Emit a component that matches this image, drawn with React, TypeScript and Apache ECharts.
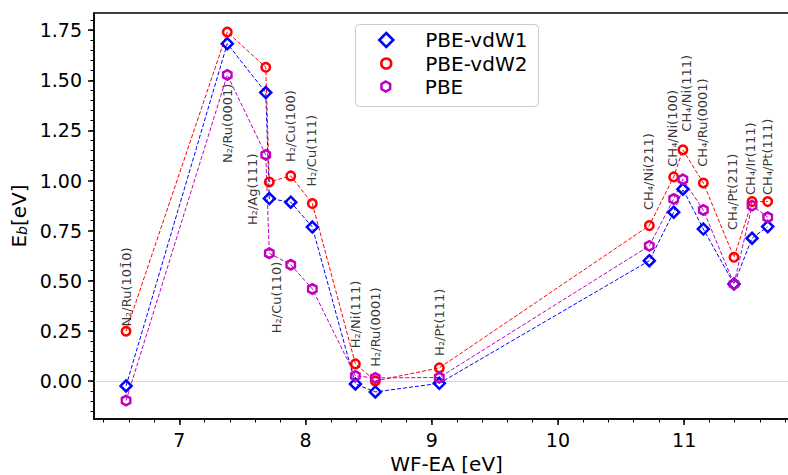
import React, { useEffect, useRef } from "react";
import * as echarts from "echarts";

// Systems (annotation texts), in order of WF-EA
const systems = [
  "N\u2082/Ru(101\u03040)",
  "N\u2082/Ru(0001)",
  "H\u2082/Ag(111)",
  "H\u2082/Cu(110)",
  "H\u2082/Cu(100)",
  "H\u2082/Cu(111)",
  "H\u2082/Ni(111)",
  "H\u2082/Ru(0001)",
  "H\u2082/Pt(111)",
  "CH\u2084/Ni(211)",
  "CH\u2084/Ni(100)",
  "CH\u2084/Ni(111)",
  "CH\u2084/Ru(0001)",
  "CH\u2084/Pt(211)",
  "CH\u2084/Ir(111)",
  "CH\u2084/Pt(111)",
];
const wfEa = [6.578, 7.38, 7.685, 7.713, 7.883, 8.054, 8.395, 8.553, 9.06, 10.724, 10.917, 10.99, 11.152, 11.395, 11.538, 11.662];
const ebVdW1 = [-0.025, 1.683, 1.439, 0.91, 0.892, 0.768, -0.015, -0.055, -0.012, 0.6, 0.842, 0.957, 0.758, 0.484, 0.712, 0.77];
const ebVdW2 = [0.248, 1.741, 1.565, 0.993, 1.023, 0.885, 0.085, 0.0, 0.065, 0.775, 1.018, 1.153, 0.988, 0.617, 0.895, 0.895];
const ebPBE = [-0.098, 1.527, 1.128, 0.637, 0.58, 0.459, 0.025, 0.015, 0.017, 0.674, 0.908, 1.006, 0.853, 0.484, 0.875, 0.817];
// Annotation anchor (start of the rotated text) in data coordinates
const labelX = [6.583, 7.384, 7.58, 7.772, 7.883, 8.049, 8.395, 8.553, 9.06, 10.716, 10.91, 11.015, 11.144, 11.385, 11.528, 11.659];
const labelY = [0.271, 1.088, 0.778, 0.238, 1.093, 0.97, 0.163, 0.071, 0.125, 0.853, 1.069, 1.244, 1.069, 0.753, 0.928, 0.928];

const xMajorTicks = [7, 8, 9, 10, 11];
const yMajorTicks = [0, 0.25, 0.5, 0.75, 1.0, 1.25, 1.5, 1.75];
const seriesNames = ["PBE-vdW1", "PBE-vdW2", "PBE"];

const X_MIN = 6.324;
const X_MAX = 11.91;
const Y_MIN = -0.19;
const Y_MAX = 1.836;

const xMinorTicks: number[] = [];
for (let i = 32; i <= 59; i++) xMinorTicks.push(Math.round(i * 0.2 * 100) / 100);
const yMinorTicks: number[] = [];
for (let i = -3; i <= 36; i++) yMinorTicks.push(Math.round(i * 0.05 * 1000) / 1000);

const FONT = "DejaVu Sans";
const BLUE = "#0000ff";
const RED = "#ff0000";
const MAGENTA = "#bf00bf";
const HEX = "path://M0,-10L8.66,-5L8.66,5L0,10L-8.66,5L-8.66,-5Z";

export default function App() {
  const ref = useRef<HTMLDivElement>(null);
  useEffect(() => {
    document.body.style.margin = "0";
    if (!ref.current) return;
    const chart = echarts.init(ref.current, null, { renderer: "svg" });
    const pts = (ys: number[]) => wfEa.map((x, i) => [x, ys[i]]);
    const lineSeries = (name: string, ys: number[], color: string, symbol: string, size: any) => ({
      name,
      type: "line",
      data: pts(ys),
      symbol,
      symbolSize: size,
      showAllSymbol: true,
      lineStyle: { color, width: 1, type: [4, 2] },
      itemStyle: { color: "rgba(0,0,0,0)", borderColor: color, borderWidth: 2.5 },
      emphasis: { disabled: true },
      z: 3,
    });
    const legendBase = (name: string, icon: string, color: string, w: number, h: number, left: number, top: number, padLeft: number) => ({
      data: [{ name, icon }],
      orient: "vertical",
      left,
      top,
      padding: 0,
      itemWidth: w,
      itemHeight: h,
      selectedMode: false,
      itemStyle: { color: "rgba(0,0,0,0)", borderColor: color, borderWidth: 2.5 },
      textStyle: { fontFamily: FONT, fontSize: 20, color: "#000", lineHeight: 22, padding: [0, 0, 0, padLeft] },
      z: 6,
    });
    const option: any = {
      animation: false,
      grid: {
        left: 94,
        top: 13,
        right: -11,
        bottom: 56,
        show: true,
        borderColor: "#000",
        borderWidth: 1.5,
        backgroundColor: "transparent",
        outerBoundsMode: "none",
      },
      xAxis: [
        {
          type: "value",
          min: X_MIN,
          max: X_MAX,
          position: "bottom",
          name: "WF-EA [eV]",
          nameLocation: "middle",
          nameGap: 30,
          nameTextStyle: { fontFamily: FONT, fontSize: 20, color: "#000" },
          axisLine: { show: true, onZero: false, lineStyle: { color: "#000", width: 1.5 } },
          axisTick: { show: true, length: 6, customValues: xMajorTicks, lineStyle: { color: "#000", width: 1.5 } },
          axisLabel: { customValues: xMajorTicks, fontFamily: FONT, fontSize: 19, color: "#000", margin: 11 },
          splitLine: { show: false },
        },
        {
          type: "value",
          min: X_MIN,
          max: X_MAX,
          position: "bottom",
          axisLine: { show: false, onZero: false },
          axisTick: { show: true, length: 3.5, customValues: xMinorTicks, lineStyle: { color: "#000", width: 1 } },
          axisLabel: { show: false },
          splitLine: { show: false },
        },
      ],
      yAxis: [
        {
          type: "value",
          min: Y_MIN,
          max: Y_MAX,
          position: "left",
          name: "E{s|b}[eV]",
          nameLocation: "middle",
          nameGap: 62,
          nameTextStyle: {
            fontFamily: FONT,
            fontSize: 20,
            color: "#000",
            rich: { s: { fontFamily: FONT, fontSize: 14, fontStyle: "italic", color: "#000", verticalAlign: "bottom" } },
          },
          axisLine: { show: true, onZero: false, lineStyle: { color: "#000", width: 1.5 } },
          axisTick: { show: true, length: 6, customValues: yMajorTicks, lineStyle: { color: "#000", width: 1.5 } },
          axisLabel: {
            customValues: yMajorTicks,
            fontFamily: FONT,
            fontSize: 19,
            color: "#000",
            margin: 12,
            formatter: (v: number) => v.toFixed(2),
          },
          splitLine: { show: false },
        },
        {
          type: "value",
          min: Y_MIN,
          max: Y_MAX,
          position: "left",
          axisLine: { show: false, onZero: false },
          axisTick: { show: true, length: 3.5, customValues: yMinorTicks, lineStyle: { color: "#000", width: 1 } },
          axisLabel: { show: false },
          splitLine: { show: false },
        },
      ],
      legend: [
        legendBase(seriesNames[0], "diamond", BLUE, 14, 14, 378, 29, 27),
        legendBase(seriesNames[1], "circle", RED, 10, 10, 380, 52.5, 29),
        legendBase(seriesNames[2], HEX, MAGENTA, 9.5, 10, 380.25, 75.5, 29.25),
      ],
      graphic: [
        {
          type: "rect",
          z: 5,
          shape: { x: 355.5, y: 24.5, width: 183, height: 82, r: 4 },
          style: { fill: "#ffffff", stroke: "#cccccc", lineWidth: 1 },
        },
      ],
      series: [
        {
          ...lineSeries(seriesNames[0], ebVdW1, BLUE, "diamond", 11),
          markLine: {
            silent: true,
            symbol: "none",
            label: { show: false },
            lineStyle: { color: "#999", width: 0.8, type: "dotted" },
            data: [{ yAxis: 0 }],
            z: 1,
          },
        },
        lineSeries(seriesNames[1], ebVdW2, RED, "circle", 8.5),
        lineSeries(seriesNames[2], ebPBE, MAGENTA, HEX, [8.5, 9.5]),
        {
          name: "annotations",
          type: "scatter",
          data: labelX.map((x, i) => ({ value: [x, labelY[i]], name: systems[i] })),
          symbolSize: 1,
          itemStyle: { color: "rgba(0,0,0,0)" },
          emphasis: { disabled: true },
          silent: true,
          label: {
            show: true,
            position: "inside",
            rotate: 90,
            align: "left",
            verticalAlign: "middle",
            formatter: (p: any) => p.name,
            fontFamily: FONT,
            fontSize: 13,
            color: "#000",
          },
          z: 4,
        },
      ],
    };
    chart.setOption(option);
    return () => chart.dispose();
  }, []);
  return <div ref={ref} style={{ width: 788, height: 475 }} />;
}
